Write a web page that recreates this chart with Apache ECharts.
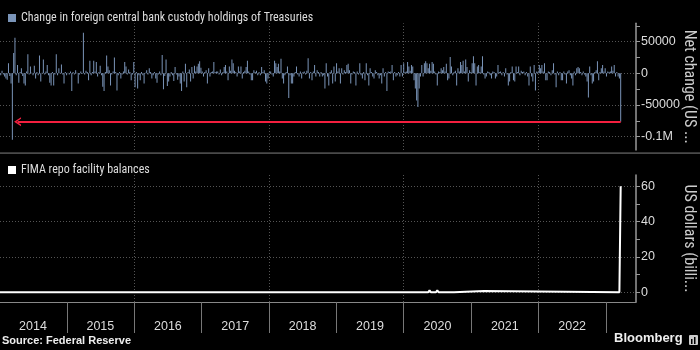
<!DOCTYPE html>
<html>
<head>
<meta charset="utf-8">
<script src="https://cdn.jsdelivr.net/npm/echarts@6/dist/echarts.min.js"></script>
<style>
html,body{margin:0;padding:0;background:#000;}
#chart{width:700px;height:350px;}
</style>
</head>
<body>
<div id="chart"></div>
<script>
// Weekly net change in foreign central bank custody holdings of Treasuries (USD millions)
// Weeks are Wednesdays starting 2014-01-01.
const custodyChangeA = [ // from 2014-01-01
 2000,-3000,4000,-2000,-5000,-8000,-10000,16000,-4000,-16000,
 -105000,32000,56000,-3000,13000,-15000,2000,8000,-4000,-16000,
 -19000,3000,30000,-2000,11000,1000,-3000,12000,-8000,2000,
 -3000,28000,-13000,1000,22000,-2000,3000,13000,-3000,-15000,
 -19000,2000,-19000,-2000,30000,-3000,8000,1000,14000,-2000,
 -16000,2000,-3000,1000,-2000,3000,-28000,2000,-2000,5000,
 1000,-16000,-2000,3000,-1000,64000,-2000,4000,2000,-11000,
 20000,-3000,2000,20000,3000,18000,-5000,2000,12000,-3000,
 -21000,-28000,2000,28000,11000,5000,-19000,-2000,3000,25000,
 2000,-27000,-3000,2000,-8000,-2000,3000,18000,11000,-2000,
 6000,2000,-11000,-2000,18000,-22000,2000,-24000,-3000,-11000,
 2000,-3000,-16000,1000,5000,-2000,8000,2000,-8000,-3000];
const custodyChangeB = [ // from 2016-04-20
 2000,-8000,-15000,-2000,3000,-3000,29000,-25000,-4000,22000,
 -20000,-13000,-5000,2000,-3000,-12000,10000,-2000,-10000,-5000,
 -16000,-28000,3000,-13000,15000,-22000,2000,6000,-13000,10000,
 -8000,12000,3000,11000,15000,19000,9000,3000,-5000,2000,
 5000,-16000,8000,-5000,2000,3000,18000,2000,3000,3000,
 -2000,6000,-3000,2000,10000,13000,3000,-11000,11000,4000,
 22000,16000,4000,2000,-5000,11000,3000,11000,-8000,2000,
 4000,10000,20000,3000,-2000,-11000,-11000,5000,2000,4000,
 -3000,2000,-3000,10000,2000,5000,-13000,-16000,-8000,2000,
 3000,-2000,-5000,20000,16000,10000,15000,3000,23000,-8000,
 -16000,-3000,2000,11000,-39000,-3000,-16000,-16000,-5000,2000,
 11000,-2000,-5000,3000,-8000,2000,3000,-2000,4000,24000];
const custodyChangeC = [ // from 2018-08-08
 -8000,2000,-11000,3000,13000,-5000,5000,2000,-5000,2000,
 -5000,-3000,-24000,16000,-5000,-19000,2000,5000,-16000,11000,
 -13000,16000,3000,8000,-16000,8000,-2000,5000,2000,13000,
 15000,5000,-16000,-2000,3000,2000,-19000,3000,-2000,16000,
 -3000,-8000,2000,-11000,16000,-3000,-19000,8000,2000,-5000,
 -8000,5000,2000,-3000,-8000,-3000,-16000,8000,-5000,2000,
 -28000,3000,2000,3000,13000,-11000,2000,-5000,-3000,2000,
 -5000,13000,-5000,16000,2000,3000,18000,11000,4000,13000,
 11000,-11000,-24000,-43000,-53000,-24000,-5000,13000,-5000,16000,
 19000,16000,8000,15000,4000,18000,15000,3000,-2000,-19000,
 3000,2000,8000,5000,10000,3000,15000,-11000,-8000,26000,
 11000,-3000,2000,4000,-19000,8000,3000,18000,13000,20000];
const custodyChangeD = [ // from 2020-11-25 to 2023-03-22
 3000,22000,10000,-13000,5000,2000,16000,27000,16000,-19000,
 11000,13000,2000,11000,27000,-2000,-8000,-5000,3000,2000,
 -3000,-8000,3000,2000,-8000,-5000,13000,2000,3000,-3000,
 2000,-5000,8000,-2000,-19000,-13000,2000,11000,-11000,-13000,
 11000,2000,11000,-3000,4000,2000,3000,-3000,2000,-5000,
 -19000,11000,-5000,-13000,13000,-27000,3000,2000,13000,8000,
 13000,3000,16000,-11000,-11000,3000,2000,-3000,5000,16000,
 -2000,-22000,3000,-3000,2000,-11000,-11000,3000,-2000,-16000,
 3000,5000,-3000,-8000,-19000,3000,-3000,8000,10000,8000,
 2000,-3000,3000,-2000,-5000,-13000,-38000,11000,-3000,-16000,
 -13000,2000,5000,19000,-11000,2000,8000,13000,3000,8000,
 -5000,3000,2000,3000,11000,4000,13000,-5000,2000,-5000,
 -8000,-76300];

// FIMA repo facility balances (USD billions)
const fimaDates  = ['2014-01-01','2020-05-13','2020-05-20','2020-05-27','2020-06-24','2020-07-01','2020-07-08','2020-09-30','2020-10-07','2021-03-10','2021-03-17','2023-03-15','2023-03-22'];
const fimaValues = [0, 0, 1.2, 0, 0, 1.2, 0, 0, 0.7, 0.7, 0, 0, 60];

const topTickValues   = [-100000,-75000,-50000,-25000,0,25000,50000,75000];
const topLabelValues  = [-100000,-50000,0,50000];
const botTickValues   = [0,10,20,30,40,50,60];
const botLabelValues  = [0,20,40,60];
const tickYears  = [2015,2016,2017,2018,2019,2020,2021,2022,2023];
const labelYears = [2014,2015,2016,2017,2018,2019,2020,2021,2022];
const gridYears  = [2016,2018,2020,2022];

const title1 = 'Change in foreign central bank custody holdings of Treasuries';
const title2 = 'FIMA repo facility balances';

const toTs = s => { const p = s.split('-').map(Number); return new Date(p[0], p[1] - 1, p[2]).getTime(); };
const custodyValues = custodyChangeA.concat(custodyChangeB, custodyChangeC, custodyChangeD);
const barData = custodyValues.map((v, i) => [new Date(2014, 0, 1 + 7 * i).getTime(), v]);
const lastPoint = barData[barData.length - 1];
const arrowTip = new Date(2014, 3, 9).getTime();
const fimaData = fimaDates.map((d, i) => [toTs(d), fimaValues[i]]);

const xMin = new Date(2014, 0, 4).getTime();
const xMax = new Date(2023, 5, 13).getTime();
const yearTs = y => new Date(y, 0, 1).getTime();

const narrow = "'Liberation Sans Narrow','Roboto Condensed','DejaVu Sans Condensed','Liberation Sans',sans-serif";
const regular = "'Liberation Sans','Arimo',sans-serif";
const gridStyle = { color: '#555', type: [1, 2], width: 1 };

const chart = echarts.init(document.getElementById('chart'), null, { renderer: 'canvas' });
chart.setOption({
  backgroundColor: '#000',
  animation: false,
  textStyle: { fontFamily: regular },
  legend: [
    { data: [{ name: title1, icon: 'rect' }], left: 3, top: 7, itemWidth: 8, itemHeight: 8, itemGap: 4,
      textStyle: { color: '#ddd', fontSize: 12, fontFamily: narrow }, selectedMode: false },
    { data: [{ name: title2, icon: 'rect' }], left: 3, top: 159, itemWidth: 8, itemHeight: 8, itemGap: 4,
      textStyle: { color: '#ddd', fontSize: 12, fontFamily: narrow }, selectedMode: false }
  ],
  grid: [
    { left: 0, right: 64, top: 23.3, height: 126.7, containLabel: false, outerBoundsMode: 'none' },
    { left: 0, right: 64, top: 175, height: 127, containLabel: false, outerBoundsMode: 'none' }
  ],
  xAxis: [
    { gridIndex: 0, type: 'value', min: xMin, max: xMax, show: false, splitLine: { show: false } },
    { gridIndex: 1, type: 'value', min: xMin, max: xMax,
      axisLine: { show: true, onZero: false, lineStyle: { color: '#888', width: 1 } },
      axisTick: { show: true, customValues: tickYears.map(yearTs), length: 31, inside: false, lineStyle: { color: '#777' } },
      axisLabel: { show: true, customValues: labelYears.map(y => new Date(y, 6, 2).getTime()),
        formatter: v => String(new Date(v).getFullYear()), color: '#ddd', fontSize: 12.5, margin: 18 },
      splitLine: { show: false } }
  ],
  yAxis: [
    { gridIndex: 0, type: 'value', position: 'right', min: -121000, max: 79000,
      axisLine: { show: true, lineStyle: { color: '#999', width: 1.5 } },
      axisTick: { show: true, customValues: topTickValues, length: 4, inside: false, lineStyle: { color: '#999' } },
      axisLabel: { show: true, customValues: topLabelValues, color: '#ddd', fontSize: 12.5, margin: 5,
        formatter: v => (v === -100000 ? '-0.1M' : String(v)) },
      splitLine: { show: false },
      name: 'Net change (US ...', nameLocation: 'middle', nameRotate: -90, nameGap: 45, nameMoveOverlap: false,
      nameTextStyle: { color: '#ccc', fontSize: 16, fontFamily: narrow } },
    { gridIndex: 1, type: 'value', position: 'right', min: -5.5, max: 66.3,
      axisLine: { show: true, lineStyle: { color: '#999', width: 1.5 } },
      axisTick: { show: true, customValues: botTickValues, length: 4, inside: false, lineStyle: { color: '#999' } },
      axisLabel: { show: true, customValues: botLabelValues, color: '#ddd', fontSize: 12.5, margin: 5 },
      splitLine: { show: false },
      name: 'US dollars (billi...', nameLocation: 'middle', nameRotate: -90, nameGap: 45, nameMoveOverlap: false,
      nameTextStyle: { color: '#ccc', fontSize: 16, fontFamily: narrow } }
  ],
  series: [
    { name: 'grid-top', type: 'line', xAxisIndex: 0, yAxisIndex: 0, data: [], z: 0, silent: true,
      markLine: { z: 0, silent: true, symbol: 'none', animation: false, label: { show: false }, lineStyle: gridStyle,
        data: topLabelValues.map(v => ({ yAxis: v })).concat(gridYears.map(y => ({ xAxis: yearTs(y) }))) } },
    { name: 'grid-bottom', type: 'line', xAxisIndex: 1, yAxisIndex: 1, data: [], z: 0, silent: true,
      markLine: { z: 0, silent: true, symbol: 'none', animation: false, label: { show: false }, lineStyle: gridStyle,
        data: botLabelValues.map(v => ({ yAxis: v })).concat(gridYears.map(y => ({ xAxis: yearTs(y) }))) } },
    { name: title1, type: 'bar', xAxisIndex: 0, yAxisIndex: 0, data: barData, barWidth: 1, z: 2,
      itemStyle: { color: '#7a94b8' }, silent: true,
      markLine: { silent: true, animation: false, label: { show: false },
        symbol: ['none', 'path://M0,10L5,0L10,10L8.2,10L5,3.6L1.8,10Z'], symbolSize: [9, 7],
        lineStyle: { color: '#f41f3f', width: 2, type: 'solid' },
        data: [[ { coord: [lastPoint[0], lastPoint[1]] }, { coord: [arrowTip, lastPoint[1]] } ]] } },
    { name: title2, type: 'line', xAxisIndex: 1, yAxisIndex: 1, data: fimaData, showSymbol: false, z: 3,
      lineStyle: { color: '#fff', width: 2 }, itemStyle: { color: '#fff' }, silent: true }
  ],
  graphic: [
    { type: 'rect', shape: { x: 0, y: 152.3, width: 700, height: 1.8 }, style: { fill: '#4a4a4a' }, silent: true },
    { type: 'text', left: 2, top: 335, style: { text: 'Source: Federal Reserve', fill: '#eee', font: "bold 11px 'Liberation Sans', sans-serif" } },
    { type: 'text', left: 614, top: 332, style: { text: 'Bloomberg', fill: '#eee', font: "bold 13px 'Liberation Sans', sans-serif" } },
    { type: 'rect', shape: { x: 689, y: 335, width: 9, height: 10, r: 1 }, style: { fill: '#ccc' } },
    { type: 'rect', shape: { x: 691, y: 339, width: 1.5, height: 5 }, style: { fill: '#000' } },
    { type: 'rect', shape: { x: 694, y: 337, width: 1.5, height: 7 }, style: { fill: '#000' } }
  ]
});
</script>
</body>
</html>
